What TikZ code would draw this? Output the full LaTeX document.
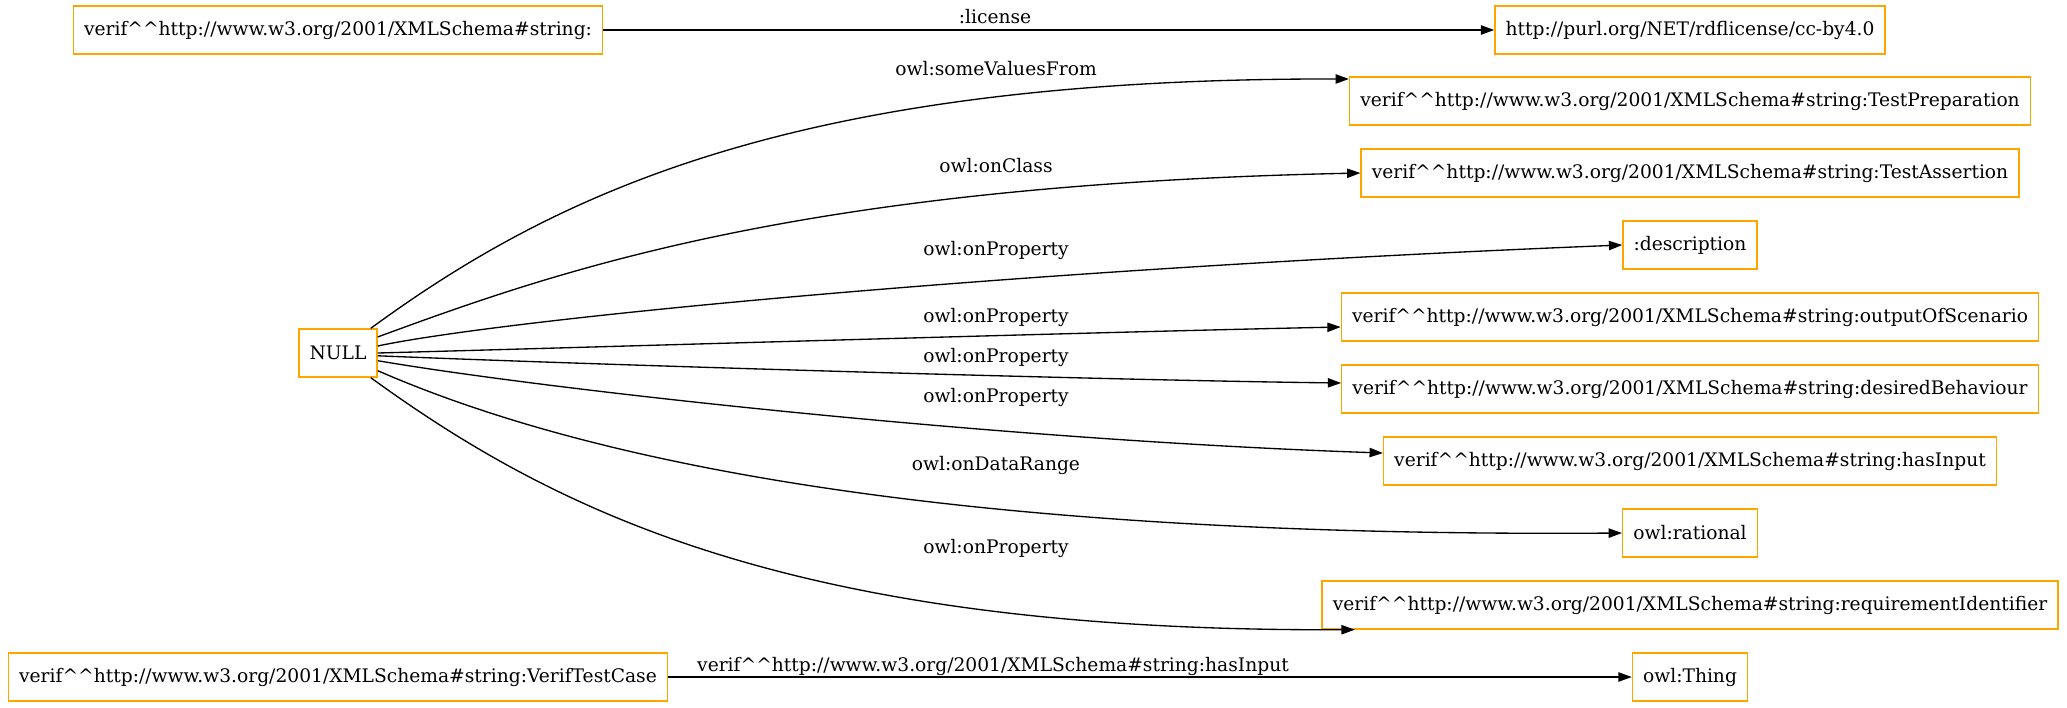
\documentclass[tikz,border=0pt]{standalone}
\usepackage{fontspec}
\setmainfont{DejaVu Serif}
\usetikzlibrary{arrows.meta}
\definecolor{gvorange}{HTML}{FFA500}
\newcommand{\verifns}{verif\textasciicircum\textasciicircum http://www.w3.org/2001/XMLSchema\#string:}

\begin{document}
\begin{tikzpicture}[x=0.75pt,y=-0.75pt,
	box/.style={draw=gvorange,line width=1pt,minimum height=36pt,minimum width=54pt,
		inner xsep=8pt,font=\fontsize{14}{16}\selectfont},
	lbl/.style={inner sep=0pt,font=\fontsize{14}{16}\selectfont},
	edge/.style={line width=1pt,-{Triangle[length=10pt,width=7pt]}}]
	\useasboundingbox (0,0) rectangle (2067,707);
	%节点
	\node[box] (a) at (338,30) {\verifns};
	\node[box] (null) at (338,353) {NULL};
	\node[box] (vtc) at (338,677) {\verifns VerifTestCase};
	\node[box] (lic) at (1690,30) {http://purl.org/NET/rdflicense/cc-by4.0};
	\node[box] (prep) at (1690,101) {\verifns TestPreparation};
	\node[box] (asrt) at (1690,173) {\verifns TestAssertion};
	\node[box] (desc) at (1690,245) {:description};
	\node[box] (outp) at (1690,317) {\verifns outputOfScenario};
	\node[box] (desb) at (1690,389) {\verifns desiredBehaviour};
	\node[box] (inp) at (1690,461) {\verifns hasInput};
	\node[box] (rat) at (1690,533) {owl:rational};
	\node[box] (req) at (1690,605) {\verifns requirementIdentifier};
	\node[box] (thing) at (1690,677) {owl:Thing};
	%连线
	\draw[edge] (a) -- (lic);
	\draw[edge] (vtc) -- (thing);
	\draw[edge] (null.37) .. controls (560,190) and (800,78) .. ([yshift=-2pt]prep.north west);
	\draw[edge] (null.22) .. controls (560,270) and (800,185) .. (asrt.west);
	\draw[edge] (null.10) .. controls (500,320) and (1000,270) .. (desc.west);
	\draw[edge] (null.east) .. controls (600,347) and (1100,332) .. ([yshift=-7.5pt]outp.west);
	\draw[edge] (null.-4) .. controls (600,365) and (1100,380) .. ([yshift=4.5pt]desb.west);
	\draw[edge] (null.-11) .. controls (550,390) and (1000,440) .. ([yshift=6pt]inp.west);
	\draw[edge] (null.-24) .. controls (560,450) and (900,538) .. (rat.west);
	\draw[edge] (null.-37) .. controls (560,515) and (800,632) .. ([xshift=25pt]req.south west);
	%标签
	\node[lbl] (llic) at (995,17) {:license};
	\node[lbl] (lsome) at (996,69) {owl:someValuesFrom};
	\node[lbl] (lclass) at (996,166) {owl:onClass};
	\node[lbl] (lprop1) at (996,250) {owl:onProperty};
	\node[lbl] (lprop2) at (996,317) {owl:onProperty};
	\node[lbl] (lprop3) at (996,357) {owl:onProperty};
	\node[lbl] (lprop4) at (996,397) {owl:onProperty};
	\node[lbl] (lrange) at (996,465) {owl:onDataRange};
	\node[lbl] (lprop5) at (996,548) {owl:onProperty};
	\node[lbl] (lhas) at (993,666) {\verifns hasInput};
\end{tikzpicture}
\end{document}
